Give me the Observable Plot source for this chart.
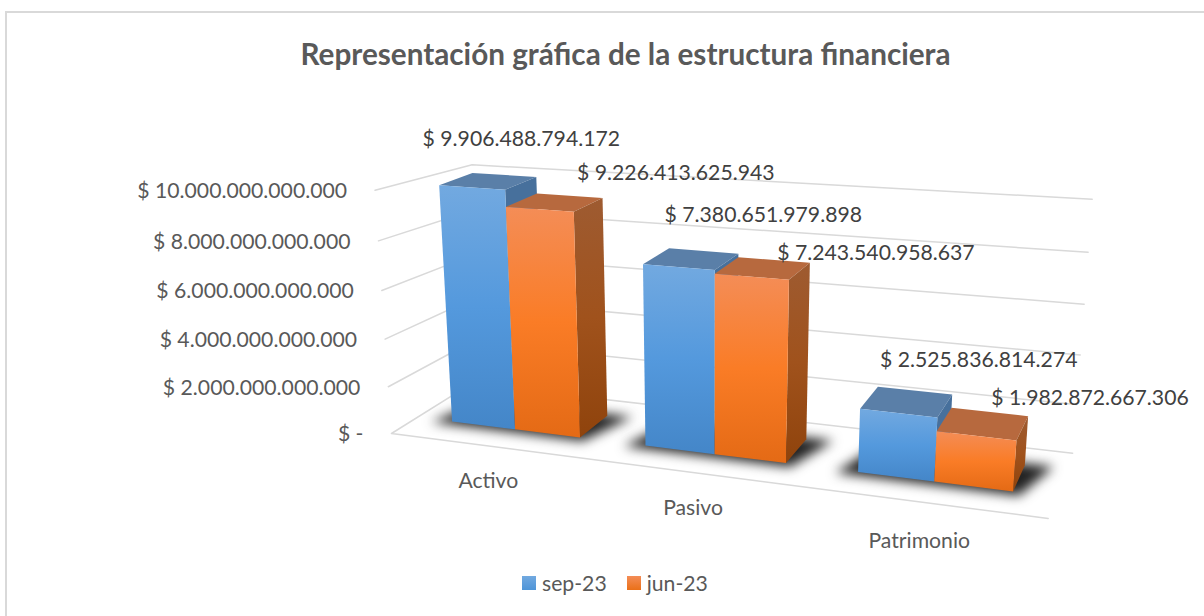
<!DOCTYPE html>
<html lang="es">
<head>
<meta charset="utf-8">
<script src="https://cdn.jsdelivr.net/npm/d3@7"></script>
<script src="https://cdn.jsdelivr.net/npm/@observablehq/plot@0.6"></script>
<style>
  html, body { margin: 0; padding: 0; background: #fff; }
  #chart { position: relative; width: 1204px; height: 616px; overflow: hidden; font-family: Lato, sans-serif; }
  #frame { position: absolute; left: 5px; top: 11px; width: 1300px; height: 700px; border: 2px solid #d9d9d9; box-sizing: border-box; }
  #title { position: absolute; left: 0; width: 1251px; top: 36px; text-align: center; font-size: 29.7px; font-weight: 700; color: #595959; white-space: nowrap; }
  #legend { position: absolute; left: 522px; top: 570px; display: flex; align-items: center; font-size: 21.2px; color: #595959; }
  #legend i { display: inline-block; width: 14px; height: 14px; margin-right: 6px; }
  #legend span { margin-right: 20px; display: flex; align-items: center; }
  #plot { position: absolute; left: 0; top: 0; }
  g[fill="#222222"] { filter: blur(6px); }
</style>
</head>
<body>
<div id="chart">
  <div id="frame"></div>
  <div id="plot"></div>
  <div id="title"></div>
  <div id="legend"></div>
</div>
<script>
const chartTitle = "Representación gráfica de la estructura financiera";
const categories = ["Activo", "Pasivo", "Patrimonio"];
const seriesNames = ["sep-23", "jun-23"];
const sep23 = [9906488794172, 7380651979898, 2525836814274];
const jun23 = [9226413625943, 7243540958637, 1982872667306];
const yTicks = [0, 2e12, 4e12, 6e12, 8e12, 10e12];
const yTickLabels = ["$ -", "$ 2.000.000.000.000", "$ 4.000.000.000.000", "$ 6.000.000.000.000", "$ 8.000.000.000.000", "$ 10.000.000.000.000"];
const sepLabels = ["$ 9.906.488.794.172", "$ 7.380.651.979.898", "$ 2.525.836.814.274"];
const junLabels = ["$ 9.226.413.625.943", "$ 7.243.540.958.637", "$ 1.982.872.667.306"];
const yMax = 10e12;

// perspective camera: u along categories, v depth, w height (all 0..1)
const camX = [391, 510, 124.3, -34.8];
const camY = [433, 12.5, -12.5, -252.6];
const camD = [1, -0.14, 0.0963, -0.049];
function project(u, v, w) {
  const dot = (c) => c[0] + c[1] * u + c[2] * v + c[3] * w;
  const d = dot(camD);
  return [dot(camX) / d, dot(camY) / d];
}
const pt = (u, v, w, extra = {}) => { const [x, y] = project(u, v, w); return {x, y, ...extra}; };

// bar layout in the camera's space
const catStart = 0.062, catStep = 0.329, barU = 0.1105, vFront = 0.31, vBack = 0.72;

const palette = {
  blueFront: ["#72a9e0", "#5499dd", "#4486c8"],
  blueSide: ["#47709c", "#47709c", "#47709c"],
  blueTop: ["#5a7fa8", "#5a7fa8", "#5a7fa8"],
  orangeFront: ["#f48d57", "#fa7c26", "#e46a15"],
  orangeSide: ["#9e5b31", "#a0521c", "#8f430c"],
  orangeTop: ["#b7693e", "#b7693e", "#b7693e"]
};
const gridColor = "#d9d9d9";
const shadowColor = "#222222";
const legendFills = ["linear-gradient(#72a9e0, #4f95d8)", "linear-gradient(#f48d57, #ea7018)"];

function defs() {
  const d = d3.create("svg:defs");
  for (const [name, stops] of Object.entries(palette)) {
    const g = d.append("linearGradient").attr("id", name).attr("x1", 0).attr("x2", 0).attr("y1", 0).attr("y2", 1);
    stops.forEach((c, i) => g.append("stop").attr("offset", i / 2).attr("stop-color", c));
  }
  return d.node();
}

const quad = (a) => a.map(([u, v, w]) => pt(u, v, w));
const face = (points, fill) => Plot.line(quad(points), {x: "x", y: "y", fill, stroke: "none", curve: "linear-closed"});

const marks = [defs];

// gridlines on walls: the back corner leans slightly with height
for (const t of yTicks.slice(1)) {
  const w = t / yMax;
  marks.push(Plot.line(quad([[0, 0, w], [0.037 * w, 1 - 0.1 * w, w], [1, 1, w]]), {x: "x", y: "y", stroke: gridColor, strokeWidth: 1.5}));
}
// floor
marks.push(Plot.line(quad([[1, 1, 0], [0, 1, 0], [0, 0, 0], [1, 0, 0]]), {x: "x", y: "y", stroke: gridColor, strokeWidth: 1.5}));

// bars
categories.forEach((c, i) => {
  const u0 = catStart + catStep * i;
  const u2 = u0 + 2 * barU;
  marks.push(face([[u0 - 0.03, vFront - 0.05, 0], [u2 + 0.01, vFront - 0.05, 0], [u2 + 0.04, vBack + 0.03, 0], [u0, vBack + 0.03, 0]], shadowColor));
  [[sep23[i], "blue"], [jun23[i], "orange"]].forEach(([val, col], s) => {
    const a = u0 + s * barU, b = a + barU, w = val / yMax;
    marks.push(face([[a, vFront, w], [a, vBack, w], [b, vBack, w], [b, vFront, w]], `url(#${col}Top)`));
    marks.push(face([[b, vFront, 0], [b, vFront, w], [b, vBack, w], [b, vBack, 0]], `url(#${col}Side)`));
    marks.push(face([[a, vFront, 0], [a, vFront, w], [b, vFront, w], [b, vFront, 0]], `url(#${col}Front)`));
  });
});

const labelFont = 21.2;

// tick labels
const tickRows = yTicks.map((t, i) => pt(0, 0, t / yMax, {label: yTickLabels[i]}));
marks.push(Plot.text(tickRows, {x: "x", y: "y", text: "label", textAnchor: "end", dx: -28, dy: 1, fontSize: labelFont, fill: "#595959"}));

// category labels, nudged as in the source chart
const catNudge = [[0, 35], [0, 35], [0, 39]];
const catRows = categories.map((c, i) => {
  const p = pt(catStart + catStep * i + barU, 0, 0);
  return {x: p.x + catNudge[i][0] - 3, y: p.y + catNudge[i][1], label: c};
});
marks.push(Plot.text(catRows, {x: "x", y: "y", text: "label", fontSize: labelFont, fill: "#595959"}));

// data labels, nudged by hand in the source chart
const sepNudge = [[33, -42], [72, -44], [72, -41]];
const junNudge = [[121, -29], [113, -15], [107, -25]];
const labelRows = [];
categories.forEach((c, i) => {
  [[sep23[i], sepLabels[i], sepNudge[i]], [jun23[i], junLabels[i], junNudge[i]]].forEach(([val, label, [nx, ny]], s) => {
    const p = pt(catStart + catStep * i + (s + 0.5) * barU, (vFront + vBack) / 2, val / yMax);
    labelRows.push({x: p.x + nx, y: p.y + ny, label});
  });
});
marks.push(Plot.text(labelRows, {x: "x", y: "y", text: "label", fontSize: labelFont, fill: "#404040"}));

const plot = Plot.plot({
  width: 1204, height: 616, margin: 0,
  x: {domain: [0, 1204], range: [0, 1204], axis: null},
  y: {domain: [0, 616], range: [0, 616], axis: null},
  style: {background: "transparent", fontFamily: "Lato, sans-serif"},
  marks
});
document.getElementById("plot").appendChild(plot);
document.getElementById("title").textContent = chartTitle;
const legend = d3.select("#legend");
seriesNames.forEach((n, i) => {
  const s = legend.append("span");
  s.append("i").style("background", legendFills[i]);
  s.append("b").style("font-weight", 400).text(n);
});
</script>
</body>
</html>
